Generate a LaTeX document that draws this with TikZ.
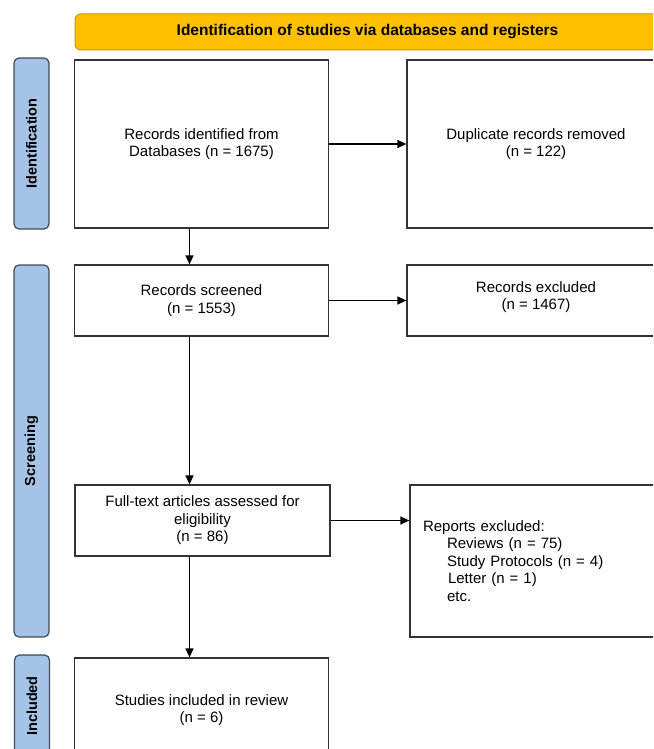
\documentclass[tikz,border=0pt]{standalone}
\usepackage{fontspec}
\setmainfont{Liberation Sans}
\usetikzlibrary{arrows.meta}

\definecolor{bannergold}{HTML}{FFC000}
\definecolor{bannerrim}{HTML}{C99400}
\definecolor{phaseblue}{HTML}{A5C3E6}
\definecolor{phaserim}{HTML}{3F4B5B}
\definecolor{boxline}{HTML}{333333}

\begin{document}
\begin{tikzpicture}[x=1pt,y=-1pt,
    box/.style={draw=boxline,line width=1.2pt,align=center,inner sep=0pt,
        font=\fontsize{15}{17.5}\selectfont},
    phase/.style={draw=phaserim,fill=phaseblue,line width=1.2pt,rounded corners=5pt,
        inner sep=0pt,rotate=90,font=\fontsize{14.5}{16}\selectfont\bfseries},
    banner/.style={draw=bannerrim,fill=bannergold,line width=1pt,rounded corners=6pt,
        inner sep=0pt,font=\fontsize{15.5}{17}\selectfont\bfseries},
    flow/.style={-{Triangle[length=9pt,width=8pt]},line width=1.4pt}]
    \useasboundingbox (0,0) rectangle (653,749);
    \clip (0,0) rectangle (653,749);
    % header and phase bars
    \path (367.5,32) node [banner, minimum width=585, minimum height=36] (head) {Identification of studies via databases and registers};
    \path (31.5,143.5) node [phase, minimum width=171, minimum height=35] (pid) {Identification};
    \path (31.5,451) node [phase, minimum width=372, minimum height=35] (pscr) {Screening};
    \path (32,706) node [phase, minimum width=102, minimum height=35] (pinc) {Included};
    % boxes
    \path (201.5,144) node [box, minimum width=254, minimum height=168] (rid) {Records identified from\\Databases (n = 1675)};
    \path (536,144) node [box, minimum width=258, minimum height=168] (dup) {Duplicate records removed\\(n = 122)};
    \path (201.5,300.5) node [box, minimum width=254, minimum height=71] (scr) {Records screened\\(n = 1553)};
    \path (536,300.5) node [box, minimum width=258, minimum height=71] (rex) {Records excluded\\(n = 1467)\rule[-10pt]{0pt}{0pt}};
    \path (202.5,520.5) node [box, minimum width=255, minimum height=71] (fta) {Full-text articles assessed for\\eligibility\\(n = 86)};
    \path (539,561) node [box, align=left, text width=232pt, inner xsep=13pt, minimum height=152] (rep) {Reports excluded:\\
        \hspace*{24pt}Reviews (n = 75)\\
        \hspace*{24pt}Study Protocols (n = 4)\\
        \hspace*{25pt}Letter (n = 1)\\
        \hspace*{24pt}etc.};
    \path (201.5,710) node [box, minimum width=254, minimum height=104] (inc) {Studies included in review\\(n = 6)};
    % arrows
    \coordinate (trunk) at (189.5,0);
    \draw [flow] (rid.east) -- (dup.west);
    \draw [flow] (rid.south -| trunk) -- (scr.north -| trunk);
    \draw [flow] (scr.east) -- (rex.west);
    \draw [flow] (scr.south -| trunk) -- (fta.north -| trunk);
    \draw [flow] (fta.east) -- (fta.east -| rep.west);
    \draw [flow] (fta.south -| trunk) -- (inc.north -| trunk);
\end{tikzpicture}
\end{document}
